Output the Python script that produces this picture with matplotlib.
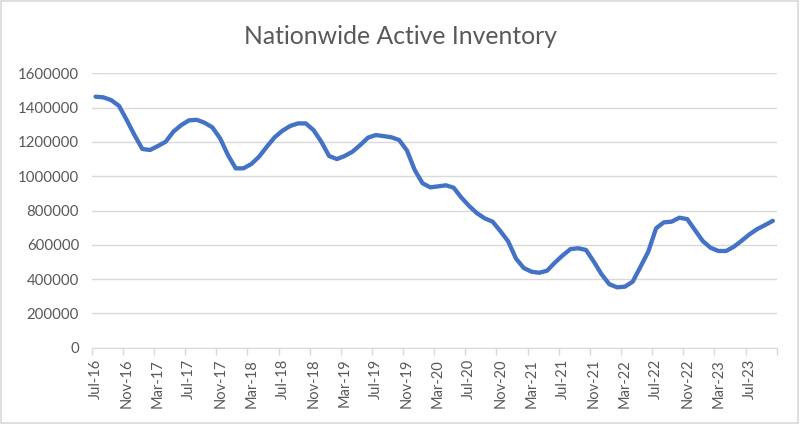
import numpy as np
import pandas as pd
import matplotlib
matplotlib.use('Agg')
import matplotlib.pyplot as plt
from matplotlib.patches import Rectangle

# monthly active listings, Jul-16 .. Oct-23
months = pd.date_range('2016-07-01', periods=88, freq='MS').strftime('%b-%y').tolist()
inventory = [
    1464000, 1460000, 1444000, 1411000, 1328000, 1240000,
    1159000, 1153000, 1176000, 1201000, 1260000, 1298000,
    1326000, 1329000, 1312000, 1285000, 1221000, 1124000,
    1046000, 1046000, 1071000, 1114000, 1172000, 1227000,
    1265000, 1293000, 1308000, 1308000, 1269000, 1201000,
    1118000, 1100000, 1118000, 1143000, 1182000, 1225000,
    1240000, 1234000, 1227000, 1211000, 1150000, 1036000,
    959000, 935000, 941000, 947000, 933000, 875000,
    826000, 784000, 754000, 735000, 680000, 620000,
    520000, 465000, 443000, 437000, 449000, 496000,
    538000, 575000, 580000, 570000, 502000, 428000,
    370000, 352000, 356000, 385000, 472000, 560000,
    696000, 731000, 735000, 758000, 750000, 686000,
    622000, 583000, 564000, 564000, 589000, 624000,
    661000, 692000, 715000, 740000,
]
yticks = [0, 200000, 400000, 600000, 800000, 1000000, 1200000, 1400000, 1600000]

txt = '#595959'
grid = '#d9d9d9'
plt.rcParams['font.family'] = ['Lato', 'DejaVu Sans']

fig = plt.figure(figsize=(8, 4.24), dpi=100)
ax = fig.add_axes([0.1146, 0.18, 0.8563, 0.647])

x = np.arange(len(inventory))
ax.plot(x, inventory, color='#4472C4', lw=3.1, solid_joinstyle='round', solid_capstyle='round')

ax.set_xlim(-0.5, len(inventory) - 0.5)
ax.set_ylim(0, 1600000)
ax.set_yticks(yticks)
ax.set_yticklabels([str(v) for v in yticks], color=txt, fontsize=10.8)
ax.yaxis.grid(True, color=grid, lw=1)
ax.set_axisbelow(True)
ax.tick_params(axis='y', length=0, pad=9)

# tick marks between categories, labels on every 4th month
ax.set_xticks(np.arange(-0.5, len(inventory), 4))
ax.set_xticklabels([])
ax.tick_params(axis='x', which='major', length=5, color=grid, width=1)
ax.set_xticks(x[::4], minor=True)
ax.set_xticklabels(months[::4], minor=True, rotation=90, color=txt, fontsize=10.5)
ax.tick_params(axis='x', which='minor', length=0, pad=8)

for s in ['top', 'right', 'left']:
    ax.spines[s].set_visible(False)
ax.spines['bottom'].set_color(grid)

fig.text(0.5, 0.915, 'Nationwide Active Inventory', ha='center', va='center',
         fontsize=17.8, color=txt)

fig.patches.append(Rectangle((0.001, 0.002), 0.997, 0.995, transform=fig.transFigure,
                             fill=False, edgecolor=grid, lw=1.2))

fig.savefig('out.png', dpi=100)
